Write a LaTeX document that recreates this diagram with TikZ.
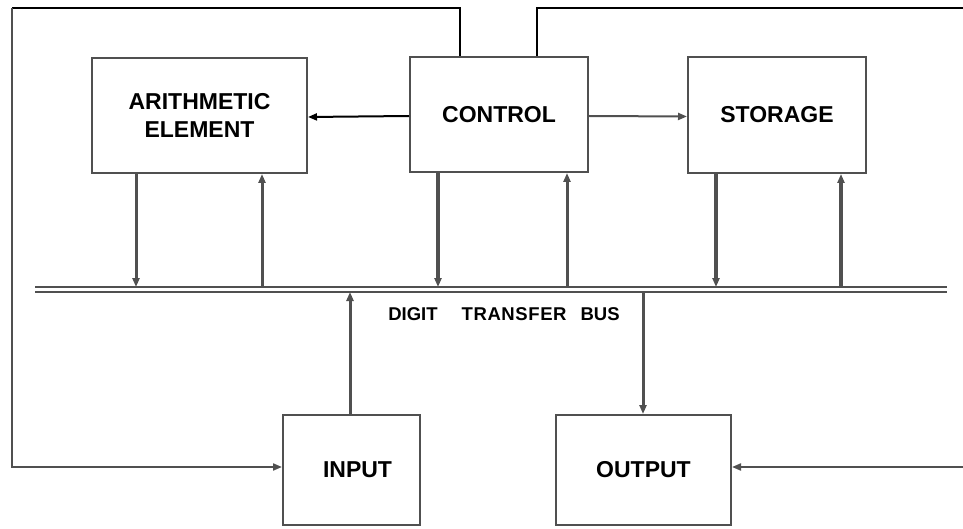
\documentclass[tikz,border=0pt]{standalone}
\usepackage{fontspec}
\setmainfont{Liberation Sans}
\usetikzlibrary{arrows.meta,calc}
\definecolor{ink}{RGB}{80,80,80}
\begin{document}
\begin{tikzpicture}[x=1pt,y=-1pt,
  box/.style={draw=ink,line width=2pt,fill=white,inner sep=0pt,align=center,
    font=\fontsize{23}{28}\selectfont\bfseries},
  conn/.style={draw=ink,line width=2pt},
  vconn/.style={draw=ink,line width=3pt},
  tip/.style={-{Triangle[length=9pt,width=7pt]}}]
\useasboundingbox (0,0) rectangle (963,529);
\fill[white] (0,0) rectangle (963,529);
% boxes
\node[box,minimum width=215pt,minimum height=115pt] (ar) at (199.5,115.5) {ARITHMETIC\\ELEMENT};
\node[box,minimum width=178pt,minimum height=115pt] (ctl) at (499,114.5) {CONTROL};
\node[box,minimum width=178pt,minimum height=116pt] (sto) at (777,115) {STORAGE};
\node[box,minimum width=137pt,minimum height=110pt] (inp) at (351.5,470) {\hspace{12pt}INPUT};
\node[box,minimum width=175pt,minimum height=110pt] (out) at (643.5,470) {OUTPUT};
% bus
\coordinate (busL) at (35,289.5);
\coordinate (busR) at (947,289.5);
\draw[draw=ink,line width=1.8pt,double=white,double distance=3.2pt] (busL) -- (busR);
\node[font=\fontsize{18.5}{22}\selectfont\bfseries,inner sep=0pt] (buslab) at (504,314)
  {DIGIT\hspace{24pt}T\hspace{0.6pt}R\hspace{0.6pt}A\hspace{0.6pt}N\hspace{0.6pt}S\hspace{0.6pt}F\hspace{0.6pt}E\hspace{0.6pt}R\hspace{14pt}BUS};
% outer loop
\coordinate (tl) at (12,8);
\coordinate (tr) at (963,8);
\coordinate (rr) at (963,467);
\draw[conn,draw=black] ($(ctl.north)+(-39,0)$) |- (tl);
\draw[conn,tip] (tl) |- ([yshift=3pt]inp.west);
\draw[conn,draw=black] ($(ctl.north)+(38,0)$) |- (tr);
\draw[conn,tip] (rr) -- ([yshift=3pt]out.east);
% horizontal control links
\draw[conn,draw=black,tip] ([yshift=-1.5pt]ctl.west) -- ([yshift=-1.5pt]ar.east);
\draw[conn,tip] ([yshift=-1.5pt]ctl.east) -- ([yshift=-1.5pt]sto.west);
% vertical links to/from bus
\coordinate (a1) at (136,0);
\coordinate (a2) at (262,0);
\coordinate (c1) at (438,0);
\coordinate (c2) at (567,0);
\coordinate (s1) at (716,0);
\coordinate (s2) at (841,0);
\coordinate (i1) at (350,0);
\coordinate (o1) at (643,0);
\draw[vconn,tip] (ar.south -| a1) -- ($(busL -| a1)+(0,-2.5)$);
\draw[vconn,tip] ($(busL -| a2)+(0,-2.5)$) -- (ar.south -| a2);
\draw[vconn,line width=3.5pt,tip] (ctl.south -| c1) -- ($(busL -| c1)+(0,-2.5)$);
\draw[vconn,tip] ($(busL -| c2)+(0,-2.5)$) -- (ctl.south -| c2);
\draw[vconn,line width=3.5pt,tip] (sto.south -| s1) -- ($(busL -| s1)+(0,-2.5)$);
\draw[vconn,line width=3.5pt,tip] ($(busL -| s2)+(0,-2.5)$) -- (sto.south -| s2);
\draw[vconn,tip] (inp.north -| i1) -- ($(busL -| i1)+(0,2.5)$);
\draw[vconn,tip] ($(busL -| o1)+(0,2.5)$) -- (out.north -| o1);
\end{tikzpicture}
\end{document}
